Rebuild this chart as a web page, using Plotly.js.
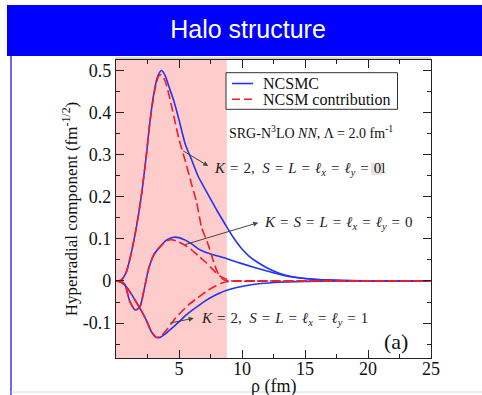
<!DOCTYPE html>
<html>
<head>
<meta charset="utf-8">
<script src="https://cdn.plot.ly/plotly-3.0.1.min.js"></script>
<style>
html,body{margin:0;padding:0;background:#fff;}
#chart{width:482px;height:395px;}
</style>
</head>
<body>
<div id="chart"></div>
<script>
// ---- Data ----
var bannerTitle = "Halo structure";
var seriesNames = ["NCSMC", "NCSM contribution"];
var xTitle = "\u03c1 (fm)";
var yTitle = "Hyperradial component (fm<sup>-1/2</sup>)";

// Channel K=2, S=L=lx=ly=0
var rhoB1 = [0,0.4,0.8,1.2,1.6,2.0,2.4,2.7,3.0,3.3,3.6,3.9,4.2,4.6,5.0,5.5,6.0,6.5,7.0,7.5,8.0,8.7,9.3,10,10.6,11.2,12,13,14,15,16,17,18,20,22,25];
var ncsmcK2S0 = [0,0.002,0.02,0.065,0.125,0.2,0.297,0.38,0.445,0.485,0.5,0.488,0.462,0.427,0.383,0.325,0.288,0.25,0.222,0.195,0.168,0.133,0.104,0.076,0.058,0.045,0.031,0.018,0.01,0.006,0.0035,0.002,0.001,0.0003,0.0001,0];
var rhoR1 = [0,0.4,0.8,1.2,1.6,2.0,2.4,2.7,3.0,3.2,3.4,3.6,3.9,4.2,4.6,5.0,5.5,6.0,6.4,6.8,7.3,7.7,8.1,8.5,8.9,9.5,12,16,20,25];
var ncsmK2S0 = [0,0.002,0.02,0.065,0.125,0.2,0.297,0.38,0.44,0.47,0.488,0.49,0.475,0.443,0.39,0.337,0.285,0.23,0.187,0.127,0.088,0.05,0.018,0.004,0,0,0,0,0,0];

// Channel K=S=L=lx=ly=0
var rhoB2 = [0,0.4,0.7,1.1,1.55,1.9,2.2,2.6,3.0,3.4,4.0,4.6,5.0,5.5,6.0,6.6,7.2,8.0,8.8,9.8,11,12.2,13.5,15,17,20,25];
var ncsmcK0 = [0,-0.001,-0.008,-0.049,-0.069,-0.061,-0.025,0.03,0.062,0.078,0.097,0.104,0.103,0.097,0.088,0.075,0.067,0.06,0.053,0.043,0.032,0.022,0.012,0.006,0.002,0.0005,0];
var rhoR2 = [0,0.4,0.7,1.1,1.55,1.9,2.2,2.6,3.0,3.4,4.0,4.4,4.8,5.4,6.0,6.6,7.1,7.5,7.9,8.3,8.7,9.2,12,16,20,25];
var ncsmK0 = [0,-0.001,-0.008,-0.049,-0.069,-0.061,-0.025,0.03,0.062,0.078,0.095,0.098,0.095,0.086,0.074,0.058,0.045,0.033,0.021,0.011,0.005,0,0,0,0,0];

// Channel K=2, S=L=lx=ly=1
var rhoB3 = [0,0.4,0.8,1.2,1.6,2.0,2.4,2.8,3.2,3.5,3.9,4.4,5.0,5.6,6.3,7.0,7.6,8.2,8.8,9.5,10.5,11.5,13,15,18,25];
var ncsmcK2S1 = [0,-0.003,-0.013,-0.03,-0.05,-0.07,-0.093,-0.12,-0.134,-0.134,-0.126,-0.113,-0.097,-0.08,-0.064,-0.049,-0.038,-0.029,-0.022,-0.016,-0.01,-0.006,-0.003,-0.001,0,0];
var rhoR3 = [0,0.4,0.8,1.2,1.6,2.0,2.4,2.8,3.2,3.6,4.0,4.7,5.2,5.75,6.3,6.8,7.3,7.9,8.4,8.8,9.3,12,16,20,25];
var ncsmK2S1 = [0,-0.003,-0.013,-0.03,-0.05,-0.07,-0.093,-0.12,-0.134,-0.13,-0.117,-0.089,-0.073,-0.057,-0.044,-0.033,-0.022,-0.012,-0.005,-0.002,0,0,0,0,0];

var xTickVals = [5,10,15,20,25];
var xTickText = ["5","10","15","20","25"];
var yTickVals = [-0.1,0,0.1,0.2,0.3,0.4,0.5];
var yTickText = ["-0.1","0","0.1","0.2","0.3","0.4","0.5"];
var shadedRange = [0, 8.8];

// ---- Styling ----
var BLUE = "#2236f0", RED = "#f01c2c";
var SERIF = "Liberation Serif, Times New Roman, serif";
var L = 116, R = 51, T = 60, B = 37, W = 482, H = 395;
var pw = W - L - R, ph = H - T - B;
function px2x(px){ return (px - L) / pw; }
function py2y(py){ return (H - B - py) / ph; }

var RED_DASH = "9px,4px";
function blue(x, y){
  return {x:x, y:y, type:"scatter", mode:"lines", name:seriesNames[0], legendgroup:"a",
    showlegend:false, line:{color:BLUE, width:1.6, shape:"spline", smoothing:0.7}, hoverinfo:"skip"};
}
function red(x, y){
  return {x:x, y:y, type:"scatter", mode:"lines", name:seriesNames[1], legendgroup:"b",
    showlegend:false, line:{color:RED, width:1.6, dash:RED_DASH, shape:"spline", smoothing:0.7}, hoverinfo:"skip"};
}
var traces = [
  blue(rhoB1, ncsmcK2S0), blue(rhoB2, ncsmcK0), blue(rhoB3, ncsmcK2S1),
  red(rhoR1, ncsmK2S0), red(rhoR2, ncsmK0), red(rhoR3, ncsmK2S1)
];

var arrowStyle = {showarrow:true, arrowhead:2, arrowsize:1, arrowwidth:1, arrowcolor:"#444",
  axref:"x", ayref:"y", text:"", standoff:0, startstandoff:0};
function arrow(hx, hy, tx, ty){
  return Object.assign({}, arrowStyle, {x:hx, y:hy, ax:tx, ay:ty, xref:"x", yref:"y"});
}
var mathFont = {family:SERIF, size:15, color:"#222"};
var EQ = "\u200a = \u200a";
function sym(s){ return "<i>" + s + "</i>"; }
var lx = "<i>\u2113<sub>x</sub></i>", ly = "<i>\u2113<sub>y</sub></i>";

// legend box geometry (pixels)
var LG = {x0:226, x1:397.5, y0:72.7, y1:109.3, lineX0:232, lineX1:253, textX:261, row1:83.5, row2:99.3};

var layout = {
  width:W, height:H,
  margin:{l:L, r:R, t:T, b:B},
  paper_bgcolor:"#ffffff", plot_bgcolor:"#ffffff",
  title:{text:bannerTitle, font:{family:"Liberation Sans, Arial, sans-serif", size:25, color:"#ffffff"},
    x:248/W, xref:"container", xanchor:"center", y:1 - 29/H, yref:"container", yanchor:"middle"},
  showlegend:false,
  xaxis:{range:[0,25], tickvals:xTickVals, ticktext:xTickText, ticks:"inside", ticklen:8, tickwidth:1,
    tickcolor:"#222", showline:true, linecolor:"#222", linewidth:1.2, mirror:"ticks", showgrid:false, zeroline:false,
    minor:{dtick:2.5, tick0:0, ticks:"inside", ticklen:4, tickcolor:"#222", showgrid:false},
    tickfont:{family:SERIF, size:18, color:"#111"}, ticklabelstandoff:-6,
    title:{text:""}},
  yaxis:{range:[-0.183,0.525], tickvals:yTickVals, ticktext:yTickText, ticks:"inside", ticklen:8, tickwidth:1,
    tickcolor:"#222", showline:true, linecolor:"#222", linewidth:1.2, mirror:"ticks", showgrid:false, zeroline:false,
    minor:{dtick:0.05, tick0:0, ticks:"inside", ticklen:4, tickcolor:"#222", showgrid:false},
    tickfont:{family:SERIF, size:18, color:"#111"},
    title:{text:yTitle, font:{family:SERIF, size:17, color:"#111"}, standoff:0}},
  shapes:[
    {type:"rect", xref:"paper", yref:"paper", x0:px2x(7), x1:px2x(482), y0:py2y(56), y1:py2y(5),
      fillcolor:"#0000ff", line:{width:0}, layer:"below"},
    {type:"line", xref:"paper", yref:"paper", x0:px2x(11), x1:px2x(11), y0:py2y(56), y1:py2y(395),
      line:{color:"#3a3ae6", width:1.5}},
    {type:"line", xref:"paper", yref:"paper", x0:px2x(11), x1:px2x(482), y0:py2y(392), y1:py2y(392),
      line:{color:"#d8d8d8", width:1}},
    {type:"line", xref:"paper", yref:"paper", x0:px2x(115), x1:px2x(431), y0:py2y(58), y1:py2y(58),
      line:{color:"#b0b0b0", width:1}},
    {type:"rect", xref:"x", yref:"paper", x0:shadedRange[0], x1:shadedRange[1], y0:0, y1:1,
      fillcolor:"#ffcccc", line:{width:0}, layer:"below"},
    {type:"rect", xref:"paper", yref:"paper", x0:px2x(371), x1:px2x(382), y0:py2y(175), y1:py2y(162.5),
      fillcolor:"#e4e4e4", line:{width:0}, layer:"below"},
    // legend
    {type:"rect", xref:"paper", yref:"paper", x0:px2x(LG.x0), x1:px2x(LG.x1), y0:py2y(LG.y1), y1:py2y(LG.y0),
      fillcolor:"#ffffff", line:{color:"#333", width:1}},
    {type:"line", xref:"paper", yref:"paper", x0:px2x(LG.lineX0), x1:px2x(LG.lineX1), y0:py2y(LG.row1), y1:py2y(LG.row1),
      line:{color:BLUE, width:1.6}},
    {type:"line", xref:"paper", yref:"paper", x0:px2x(LG.lineX0), x1:px2x(LG.lineX1), y0:py2y(LG.row2), y1:py2y(LG.row2),
      line:{color:RED, width:1.6, dash:"8px,4px"}}
  ],
  annotations:[
    {xref:"paper", yref:"paper", x:0.5, y:py2y(386.5), xanchor:"center", yanchor:"middle", showarrow:false,
      text:xTitle, font:{family:SERIF, size:18, color:"#111"}},
    {xref:"paper", yref:"paper", x:px2x(LG.textX), y:py2y(LG.row1), xanchor:"left", yanchor:"middle", showarrow:false,
      text:seriesNames[0], font:{family:SERIF, size:16, color:"#111"}},
    {xref:"paper", yref:"paper", x:px2x(LG.textX), y:py2y(LG.row2), xanchor:"left", yanchor:"middle", showarrow:false,
      text:seriesNames[1], font:{family:SERIF, size:16, color:"#111"}},
    {xref:"paper", yref:"paper", x:px2x(227), y:py2y(131.7), xanchor:"left", yanchor:"middle", showarrow:false,
      text:"SRG-N<sup>3</sup>LO <i>NN</i>, \u039b = 2.0 fm<sup>-1</sup>", font:{family:SERIF, size:14, color:"#111"}},
    {xref:"paper", yref:"paper", x:px2x(212), y:py2y(168.5), xanchor:"left", yanchor:"middle", showarrow:false,
      text:sym("K") + EQ + "2,  " + sym("S") + EQ + sym("L") + EQ + lx + EQ + ly + EQ + "0l", font:mathFont},
    {xref:"paper", yref:"paper", x:px2x(262), y:py2y(222.7), xanchor:"left", yanchor:"middle", showarrow:false,
      text:sym("K") + EQ + sym("S") + EQ + sym("L") + EQ + lx + EQ + ly + EQ + "0", font:mathFont},
    {xref:"paper", yref:"paper", x:px2x(199), y:py2y(319.3), xanchor:"left", yanchor:"middle", showarrow:false,
      text:sym("K") + EQ + "2,  " + sym("S") + EQ + sym("L") + EQ + lx + EQ + ly + EQ + "1", font:mathFont},
    {xref:"paper", yref:"paper", x:px2x(382), y:py2y(341), xanchor:"left", yanchor:"middle", showarrow:false,
      text:"(a)", font:{family:SERIF, size:22, color:"#111"}},
    arrow(7.325, 0.2732, 5.214, 0.3112),
    arrow(11.29, 0.1385, 5.373, 0.0855),
    arrow(6.167, -0.0886, 4.183, -0.1005)
  ]
};

Plotly.newPlot("chart", traces, layout, {staticPlot:true, displayModeBar:false});
</script>
</body>
</html>
